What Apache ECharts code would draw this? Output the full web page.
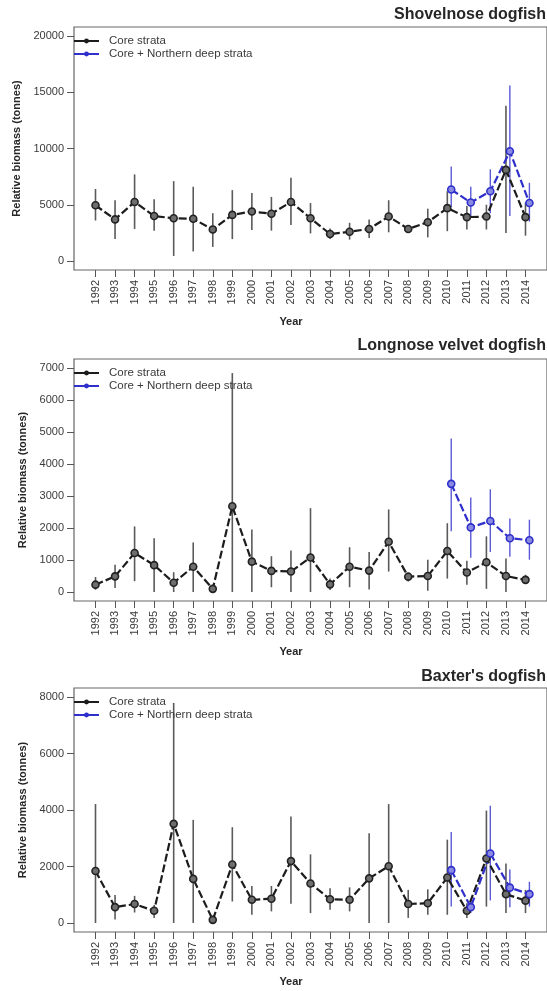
<!DOCTYPE html>
<html>
<head>
<meta charset="utf-8">
<script src="https://cdn.jsdelivr.net/npm/echarts@6/dist/echarts.min.js"></script>
<style>
  html, body { margin: 0; padding: 0; background: #fff; }
  #chart { width: 547px; height: 991px; }
</style>
</head>
<body>
<div id="chart"></div>
<script>
// Survey years
const years = [1992, 1993, 1994, 1995, 1996, 1997, 1998, 1999, 2000, 2001, 2002, 2003,
               2004, 2005, 2006, 2007, 2008, 2009, 2010, 2011, 2012, 2013, 2014];
const deepYears = [2010, 2011, 2012, 2013, 2014];

// Shovelnose dogfish (tonnes): estimate, lower and upper interval
const shovelCore   = [4950, 3700, 5250, 4000, 3800, 3750, 2800, 4100, 4400, 4200, 5250, 3800,
                      2400, 2600, 2850, 3950, 2850, 3450, 4700, 3900, 3950, 8100, 3900];
const shovelCoreLo = [3600, 1950, 2850, 2700, 450, 850, 1250, 1950, 2750, 2700, 3200, 2450,
                      1950, 1900, 2050, 2550, 2500, 2100, 2650, 2800, 2800, 2500, 2250];
const shovelCoreHi = [6400, 5400, 7700, 5500, 7100, 6600, 4250, 6300, 6050, 5700, 7400, 5150,
                      2900, 3400, 3700, 5400, 3200, 4650, 6200, 4900, 5000, 13800, 5200];
const shovelDeep   = [6350, 5200, 6200, 9750, 5150];
const shovelDeepLo = [4800, 3900, 4250, 4000, 3500];
const shovelDeepHi = [8400, 6600, 8150, 15600, 6950];

// Longnose velvet dogfish (tonnes)
const velvetCore   = [230, 490, 1220, 840, 290, 790, 100, 2680, 950, 660, 640, 1080,
                      240, 790, 670, 1570, 480, 500, 1280, 610, 930, 500, 380];
const velvetCoreLo = [70, 130, 340, 0, 0, 0, 40, 0, 0, 150, 0, 0,
                      60, 150, 80, 640, 330, 40, 420, 230, 100, 0, 250];
const velvetCoreHi = [470, 850, 2050, 1680, 620, 1550, 170, 6840, 1950, 1120, 1300, 2620,
                      420, 1400, 1250, 2580, 590, 1010, 2150, 980, 1740, 1050, 540];
const velvetDeep   = [3380, 2020, 2220, 1680, 1620];
const velvetDeepLo = [1900, 1070, 1250, 1100, 1010];
const velvetDeepHi = [4800, 2950, 3210, 2300, 2260];

// Baxter's dogfish (tonnes)
const baxterCore   = [1840, 560, 670, 430, 3510, 1560, 110, 2070, 820, 860, 2190, 1400,
                      840, 820, 1580, 2010, 670, 700, 1610, 430, 2280, 1020, 790];
const baxterCoreLo = [0, 120, 370, 180, 0, 0, 40, 760, 290, 410, 680, 350,
                      470, 410, 0, 0, 180, 290, 290, 180, 580, 350, 350];
const baxterCoreHi = [4210, 990, 960, 640, 7790, 3650, 200, 3390, 1310, 1310, 3770, 2430,
                      1230, 1260, 3180, 4210, 1170, 1190, 2950, 700, 3980, 2110, 1170];
const baxterDeep   = [1870, 560, 2460, 1250, 1020];
const baxterDeepLo = [580, 350, 800, 560, 580];
const baxterDeepHi = [3220, 820, 4150, 1890, 1460];

// Axis tick values
const shovelTicks = [0, 5000, 10000, 15000, 20000];
const velvetTicks = [0, 1000, 2000, 3000, 4000, 5000, 6000, 7000];
const baxterTicks = [0, 2000, 4000, 6000, 8000];

const titles = ['Shovelnose dogfish', 'Longnose velvet dogfish', "Baxter's dogfish"];
const seriesNames = ['Core strata', 'Core + Northern deep strata'];

// ---- layout & styling ----
const FONT = '"Liberation Sans", Arial, Helvetica, sans-serif';
const CORE_COLOR = '#1c1c1c';
const DEEP_COLOR = '#2f2fcc';
const DODGE = 0.2; // horizontal offset of the deep-strata estimates
const X_MIN = 1990.9, X_MAX = 2015.1;

const panels = [
  { title: titles[0], top: 27, height: 243, ticks: shovelTicks, yMin: -800, yMax: 20800,
    core: [shovelCore, shovelCoreLo, shovelCoreHi], deep: [shovelDeep, shovelDeepLo, shovelDeepHi],
    titleTop: 7, yearTop: 316 },
  { title: titles[1], top: 359, height: 242, ticks: velvetTicks, yMin: -280, yMax: 7280,
    core: [velvetCore, velvetCoreLo, velvetCoreHi], deep: [velvetDeep, velvetDeepLo, velvetDeepHi],
    titleTop: 338, yearTop: 646 },
  { title: titles[2], top: 688, height: 244, ticks: baxterTicks, yMin: -320, yMax: 8320,
    core: [baxterCore, baxterCoreLo, baxterCoreHi], deep: [baxterDeep, baxterDeepLo, baxterDeepHi],
    titleTop: 669, yearTop: 976 }
];

function whiskerSeries(idx, xs, lo, hi, color, width, offset) {
  return {
    type: 'custom',
    xAxisIndex: idx, yAxisIndex: idx,
    z: 1,
    silent: true,
    data: xs.map((x, i) => [x + offset, lo[i], hi[i]]),
    encode: { x: 0, y: [1, 2] },
    renderItem: function (params, api) {
      const a = api.coord([api.value(0), api.value(1)]);
      const b = api.coord([api.value(0), api.value(2)]);
      return {
        type: 'line',
        shape: { x1: a[0], y1: a[1], x2: b[0], y2: b[1] },
        style: { stroke: color, lineWidth: width }
      };
    }
  };
}

const option = {
  animation: false,
  backgroundColor: '#ffffff',
  textStyle: { fontFamily: FONT },
  title: [],
  legend: [],
  grid: [],
  xAxis: [],
  yAxis: [],
  series: []
};

panels.forEach((p, i) => {
  option.grid.push({
    left: 74, top: p.top, width: 473, height: p.height,
    show: true, borderColor: '#666', borderWidth: 1.2, backgroundColor: 'transparent'
  });
  option.title.push({
    text: p.title, right: 1, top: p.titleTop, padding: 0,
    textStyle: { fontFamily: FONT, fontSize: 16, fontWeight: 'bold', color: '#262626' }
  });
  option.title.push({
    text: 'Year', left: 291, top: p.yearTop, textAlign: 'center', padding: 0,
    textStyle: { fontFamily: FONT, fontSize: 11, fontWeight: 'bold', color: '#262626' }
  });
  option.xAxis.push({
    type: 'value', gridIndex: i, min: X_MIN, max: X_MAX, position: 'bottom',
    axisLine: { show: false, onZero: false },
    splitLine: { show: false },
    axisTick: { show: true, inside: false, length: 7, customValues: years, lineStyle: { color: '#555', width: 1 } },
    axisLabel: {
      show: true, customValues: years, rotate: 90, margin: 10,
      fontFamily: FONT, fontSize: 11, color: '#3a3a3a',
      formatter: v => String(Math.round(v))
    }
  });
  option.yAxis.push({
    type: 'value', gridIndex: i, min: p.yMin, max: p.yMax, position: 'left',
    name: 'Relative biomass (tonnes)', nameLocation: 'middle', nameGap: 43,
    nameTextStyle: { fontFamily: FONT, fontSize: 11, fontWeight: 'bold', color: '#262626' },
    axisLine: { show: false, onZero: false },
    splitLine: { show: false },
    axisTick: { show: true, inside: false, length: 7, customValues: p.ticks, lineStyle: { color: '#555', width: 1 } },
    axisLabel: {
      show: true, customValues: p.ticks, margin: 10,
      fontFamily: FONT, fontSize: 11, color: '#3a3a3a',
      formatter: v => String(Math.round(v))
    }
  });
  option.legend.push({
    orient: 'vertical', left: 73, top: p.top + 8, padding: 0,
    itemWidth: 25, itemHeight: 6, itemGap: 1,
    textStyle: { fontFamily: FONT, fontSize: 11.5, color: '#3a3a3a', lineHeight: 12, padding: [0, 0, 0, 5] },
    data: [
      { name: seriesNames[0],
        itemStyle: { color: CORE_COLOR, borderColor: CORE_COLOR, borderWidth: 0 },
        lineStyle: { color: CORE_COLOR, width: 2, type: 'solid' } },
      { name: seriesNames[1],
        itemStyle: { color: DEEP_COLOR, borderColor: DEEP_COLOR, borderWidth: 0 },
        lineStyle: { color: DEEP_COLOR, width: 2, type: 'solid' } }
    ],
    selectedMode: false
  });

  // interval bars
  option.series.push(whiskerSeries(i, years, p.core[1], p.core[2], '#5a5a5a', 1.6, 0));
  option.series.push(whiskerSeries(i, deepYears, p.deep[1], p.deep[2], '#5a5ad6', 1.4, DODGE));

  // estimates
  option.series.push({
    name: seriesNames[0], type: 'line', xAxisIndex: i, yAxisIndex: i, z: 3,
    data: years.map((y, k) => [y, p.core[0][k]]),
    symbol: 'circle', symbolSize: 7,
    lineStyle: { color: CORE_COLOR, width: 2.2, type: [8, 3] },
    itemStyle: { color: '#6e6e6e', borderColor: '#222', borderWidth: 1.6 }
  });
  option.series.push({
    name: seriesNames[1], type: 'line', xAxisIndex: i, yAxisIndex: i, z: 3,
    data: deepYears.map((y, k) => [y + DODGE, p.deep[0][k]]),
    symbol: 'circle', symbolSize: 7,
    lineStyle: { color: DEEP_COLOR, width: 2.2, type: [8, 3] },
    itemStyle: { color: '#8a8ae0', borderColor: DEEP_COLOR, borderWidth: 1.6 }
  });
});

const chart = echarts.init(document.getElementById('chart'), null, { renderer: 'canvas' });
chart.setOption(option);
</script>
</body>
</html>
